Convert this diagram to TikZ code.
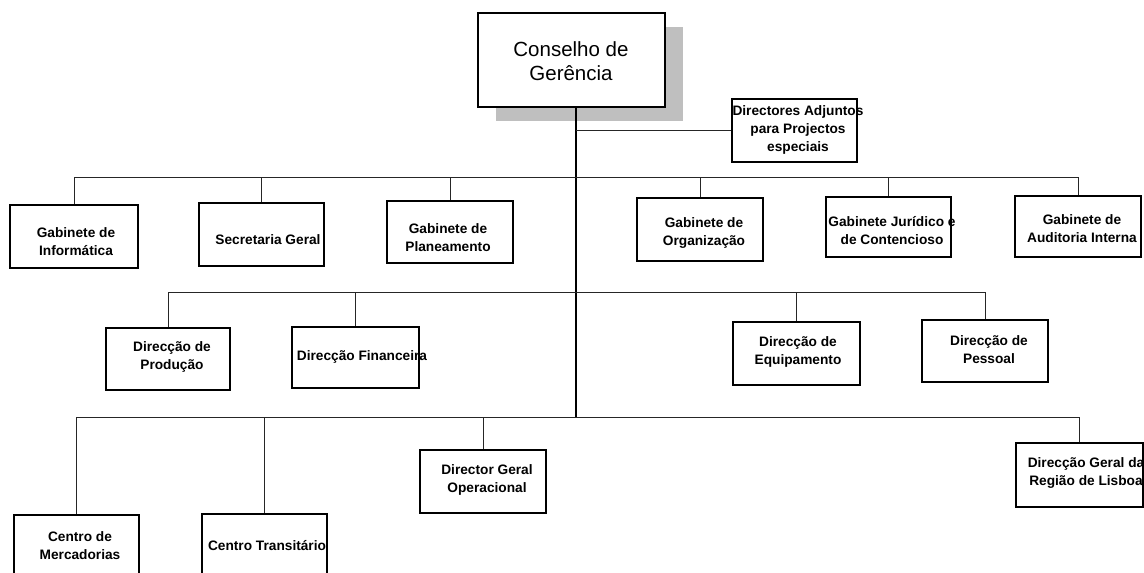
\documentclass[tikz,border=0pt]{standalone}
\usepackage{fontspec}
\setmainfont{Liberation Sans}
\usetikzlibrary{shadows}
\begin{document}
\begin{tikzpicture}[x=1pt,y=-1pt,
  obox/.style={draw=black,line width=1.5pt,fill=white,inner sep=0pt},
  otext/.style={inner sep=0pt,align=center,font=\bfseries\fontsize{13.7}{18}\selectfont},
  mainbox/.style={draw=black,line width=1.6pt,fill=white,inner sep=0pt,
    drop shadow={shadow xshift=18pt,shadow yshift=-14pt,fill=gray!50,opacity=1}},
  maintext/.style={inner sep=0pt,align=center,font=\fontsize{20.5}{24}\selectfont},
  conn/.style={draw=black!85,line width=0.8pt},
  trunk/.style={draw=black,line width=1.3pt}]
\useasboundingbox (0,0) rectangle (1144,573);
\clip (0,0) rectangle (1144,573);
\newcommand\orgbox[5]{\node[obox,minimum width={#4-#2},minimum height={#5-#3}] (#1) at ({(#2+#4)/2},{(#3+#5)/2}) {};}
% main box
\node[mainbox,minimum width=187,minimum height=94] (cg) at (571.5,60) {};
\node[maintext] (cgt) at (571,61) {Conselho de\\Gerência};
% trunk coordinates
\coordinate (t1) at (576,177);
\coordinate (t2) at (576,292);
\coordinate (t3) at (576,417);
% boxes
\orgbox{dir}{732}{99}{857}{162}
\orgbox{inf}{10}{205}{138}{268}
\orgbox{sec}{199}{203}{324}{266}
\orgbox{pla}{387}{201}{513}{263}
\orgbox{org}{637}{198}{763}{261}
\orgbox{jur}{826}{197}{951}{257}
\orgbox{aud}{1015}{196}{1141}{257}
\orgbox{pro}{106}{328}{230}{390}
\orgbox{fin}{292}{327}{419}{388}
\orgbox{equ}{733}{322}{860}{385}
\orgbox{pes}{922}{320}{1048}{382}
\orgbox{mer}{14}{515}{139}{600}
\orgbox{tra}{202}{514}{327}{600}
\orgbox{dgo}{420}{450}{546}{513}
\orgbox{lis}{1016}{443}{1143}{507}
% connectors
\draw[trunk] (cg.south -| t3) -- (t3);
\draw[conn] (dir.west -| t3) -- (dir.west);
\foreach \b in {inf,sec,pla,org,jur,aud} {\draw[conn] (t1) -| (\b.north);}
\foreach \b in {pro,fin,equ,pes} {\draw[conn] (t2) -| (\b.north);}
\foreach \b in {mer,tra,dgo,lis} {\draw[conn] (t3) -| (\b.north);}
% texts
\node[otext] (dirt) at (798,130) {Directores Adjuntos\\para Projectos\\especiais};
\node[otext] (inft) at (76,242) {Gabinete de\\Informática};
\node[otext] (sect) at (268,240) {Secretaria Geral};
\node[otext] (plat) at (448,238) {Gabinete de\\Planeamento};
\node[otext] (orgt) at (704,233) {Gabinete de\\Organização};
\node[otext] (jurt) at (892,230.5) {Gabinete Jurídico e\\de Contencioso};
\node[otext] (audt) at (1082,229) {Gabinete de\\Auditoria Interna};
\node[otext] (prot) at (172,357) {Direcção de\\Produção};
\node[otext] (fint) at (362,357) {Direcção Financeira};
\node[otext] (equt) at (798,352) {Direcção de\\Equipamento};
\node[otext] (pest) at (989,350) {Direcção de\\Pessoal};
\node[otext] (mert) at (80,546) {Centro de\\Mercadorias};
\node[otext] (trat) at (267,546) {Centro Transitário};
\node[otext] (dgot) at (487,480) {Director Geral\\Operacional};
\node[otext] (list) at (1086,473) {Direcção Geral da\\Região de Lisboa};
\end{tikzpicture}
\end{document}
